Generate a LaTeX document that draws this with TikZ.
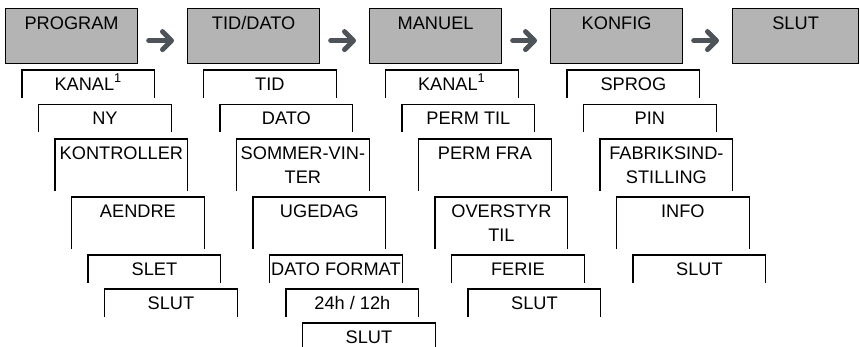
\documentclass[tikz,border=0pt]{standalone}
\usepackage{fontspec}
\setmainfont{Liberation Sans}
\usepackage{tikz}
\usetikzlibrary{arrows.meta}
\definecolor{menugrey}{RGB}{180,180,180}
\definecolor{arrowgrey}{RGB}{77,83,88}
\tikzset{
  font={\fontsize{9.1pt}{12pt}\selectfont}}
\tikzset{
  menu/.style={draw=black, line width=0.6pt, fill=menugrey, anchor=north west, inner sep=0pt,
    minimum width=66pt, minimum height=27.5pt, text height=6.6pt, text depth=13.5pt},
  item/.style={anchor=north west, inner sep=0pt, minimum width=66pt, minimum height=13.5pt,
    text height=6.6pt, text depth=0pt},
  itemtall/.style={item, minimum height=25.5pt, text depth=12pt},
  itemtwo/.style={anchor=north west, inner sep=0pt, minimum width=66pt, minimum height=25.5pt, align=center},
  nextarrow/.style={draw=arrowgrey, line width=2.5pt, line cap=round,
    -{Straight Barb[length=4.5pt,width=9pt,round]}, shorten <=5.25pt, shorten >=6.5pt}
}

\begin{document}
\begin{tikzpicture}[x=0.5pt, y=-0.5pt]
\useasboundingbox (0,0) rectangle (860,347);
%% The grey menu boxes along the top
    \node[menu] (program) at (5,8) {PROGRAM};
    \node[menu] (tiddato) at (187,8) {TID/DATO};
    \node[menu] (manuel) at (369,8) {MANUEL};
    \node[menu] (konfig) at (550,8) {KONFIG};
    \node[menu, minimum width=63pt] (slut) at (732,8) {SLUT};
%% Arrows sit a little below the middle of the boxes
    \draw[nextarrow] ([yshift=-2.25pt]program.east) -- ([yshift=-2.25pt]tiddato.west);
    \draw[nextarrow] ([yshift=-2.25pt]tiddato.east) -- ([yshift=-2.25pt]manuel.west);
    \draw[nextarrow] ([yshift=-2.25pt]manuel.east) -- ([yshift=-2.25pt]konfig.west);
    \draw[nextarrow] ([yshift=-2.25pt]konfig.east) -- ([yshift=-2.25pt]slut.west);
%% PROGRAM column
    \node[item] (pgkanal) at (22,70) {KANAL\textsuperscript{1}};
    \node[item] (pgny) at (38.5,104.5) {NY};
    \node[itemtall] (pgkontrol) at (55,139) {KONTROLLER};
    \node[itemtall] (pgaendre) at (71.5,197) {AENDRE};
    \node[item] (pgslet) at (88,255) {SLET};
    \node[item] (pgslut) at (104.5,289) {SLUT};
%% TID/DATO column
    \node[item] (tdtid) at (203.5,70) {TID};
    \node[item] (tddato) at (220,104.5) {DATO};
    \node[itemtwo] (tdsommer) at (236.5,139) {SOMMER-VIN-\\TER};
    \node[itemtall] (tdugedag) at (253,197) {UGEDAG};
    \node[item] (tdformat) at (269.5,255) {DATO FORMAT};
    \node[item] (tdtimer) at (286,289) {24h / 12h};
    \node[item] (tdslut) at (302.5,323) {SLUT};
%% MANUEL column
    \node[item] (mnkanal) at (385.5,70) {KANAL\textsuperscript{1}};
    \node[item] (mnpermtil) at (402,104.5) {PERM TIL};
    \node[itemtall] (mnpermfra) at (418.5,139) {PERM FRA};
    \node[itemtwo] (mnoverstyr) at (435,197) {OVERSTYR\\TIL};
    \node[item] (mnferie) at (451.5,255) {FERIE};
    \node[item] (mnslut) at (468,289) {SLUT};
%% KONFIG column
    \node[item] (kfsprog) at (567,70) {SPROG};
    \node[item] (kfpin) at (583.5,104.5) {PIN};
    \node[itemtwo] (kffabrik) at (600,139) {FABRIKSIND-\\STILLING};
    \node[itemtall] (kfinfo) at (616.5,197) {INFO};
    \node[item] (kfslut) at (633,255) {SLUT};
%% Sub menu boxes are open at the bottom
    \foreach \n in {pgkanal, pgny, pgkontrol, pgaendre, pgslet, pgslut,
                    tdtid, tddato, tdsommer, tdugedag, tdformat, tdtimer, tdslut,
                    mnkanal, mnpermtil, mnpermfra, mnoverstyr, mnferie, mnslut,
                    kfsprog, kfpin, kffabrik, kfinfo, kfslut}
      \draw[line width=0.6pt] (\n.south west) |- (\n.north east) -- (\n.south east);
\end{tikzpicture}
\end{document}
